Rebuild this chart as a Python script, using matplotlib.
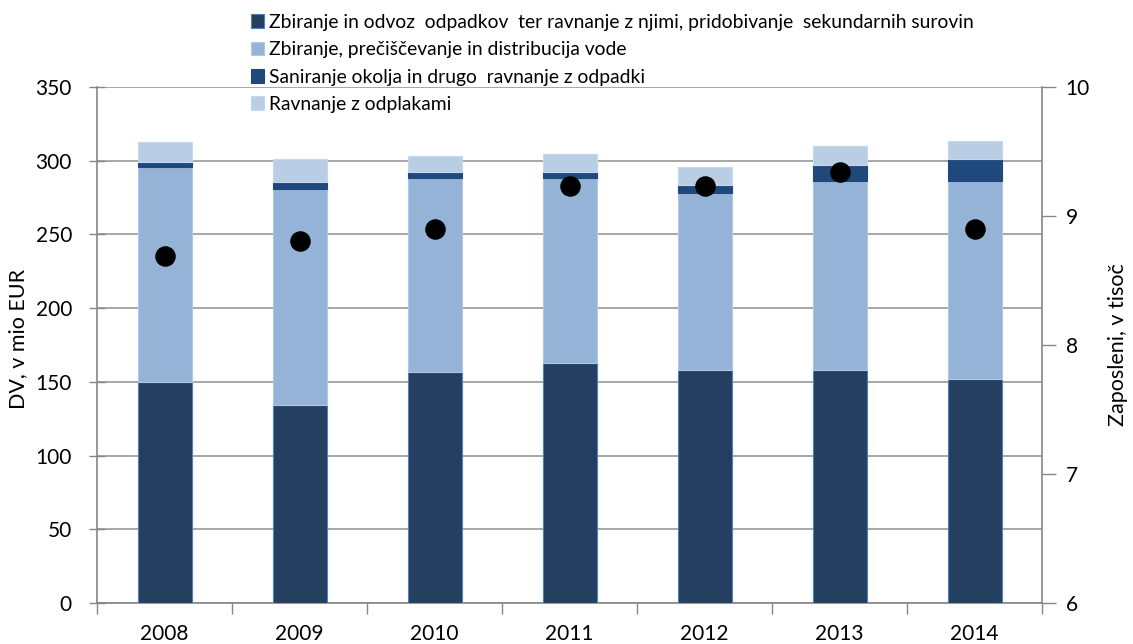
import matplotlib
matplotlib.use("Agg")
import matplotlib.pyplot as plt
import numpy as np
from matplotlib.patches import Patch

years = ["2008", "2009", "2010", "2011", "2012", "2013", "2014"]
odpadki = [150, 134, 157, 163, 158, 158, 152]
voda = [146, 147, 131, 125, 120, 128, 134]
saniranje = [3, 4.5, 4.5, 4.5, 5.5, 11, 15.5]
odplake = [14, 16, 11, 12, 12, 13, 12]
zaposleni = [8.69, 8.81, 8.90, 9.23, 9.23, 9.34, 8.90]

labels = [
    "Zbiranje in odvoz  odpadkov  ter ravnanje z njimi, pridobivanje  sekundarnih surovin",
    "Zbiranje, prečiščevanje in distribucija vode",
    "Saniranje okolja in drugo  ravnanje z odpadki",
    "Ravnanje z odplakami",
]
colors = ["#243F60", "#95B3D7", "#1F497D", "#B9CDE5"]
edges = ["#4F81BD", "#B0C8E6", "#1F497D", "#C8D8EC"]

plt.rcParams['font.family'] = ['Lato', 'DejaVu Sans']

fig = plt.figure(figsize=(11.33, 6.44), dpi=100)
ax = fig.add_axes([97/1133, 41/644, (1042-97)/1133, (603-87)/644])

x = np.arange(len(years))
w = 0.4
series = [odpadki, voda, saniranje, odplake]
bottom = np.zeros(len(years))
for vals, c, e in zip(series, colors, edges):
    ax.bar(x, vals, w, bottom=bottom, color=c, edgecolor=e, linewidth=0.8, zorder=3)
    bottom += np.array(vals)

ax.set_xlim(-0.5, len(years) - 0.5)
ax.set_ylim(0, 350)
ax.set_yticks(np.arange(0, 351, 50))
ax.yaxis.grid(True, color="#A0A0A0", linewidth=1.3, zorder=0)
ax.set_axisbelow(True)

ax.set_xticks(x)
ax.set_xticklabels(years, fontsize=15)
ax.set_xticks(np.arange(-0.5, len(years), 1), minor=True)
ax.tick_params(axis="x", which="major", length=0, pad=15)
ax.tick_params(axis="x", which="minor", length=8, color="#868686", width=1)
ax.tick_params(axis="y", which="major", direction="inout", length=12, color="#868686",
               width=1, labelsize=15, pad=12)

for s in ["top", "right"]:
    ax.spines[s].set_visible(False)
for s in ["left", "bottom"]:
    ax.spines[s].set_color("#868686")
    ax.spines[s].set_linewidth(1.2)

ax.set_ylabel("DV, v mio EUR", fontsize=15.5)
ax.yaxis.set_label_coords(-0.073, 0.512)

ax2 = ax.twinx()
ax2.scatter(x, zaposleni, s=190, color="black", zorder=5)
ax2.set_ylim(6, 10)
ax2.set_yticks([6, 7, 8, 9, 10])
for s in ["top", "left", "bottom"]:
    ax2.spines[s].set_visible(False)
ax2.spines["right"].set_color("#868686")
ax2.spines["right"].set_linewidth(1.2)
ax2.tick_params(axis="y", length=10, color="#868686", width=1, labelsize=15, pad=7)
ax2.set_ylabel("Zaposleni, v tisoč", fontsize=15.5, rotation=90)
ax2.yaxis.set_label_coords(1.0698, 0.5)

handles = [Patch(facecolor=c, edgecolor=e, linewidth=0.8) for c, e in zip(colors, edges)]
leg = fig.legend(handles, labels, loc="upper left", bbox_to_anchor=(243/1133, 1 - 6/644),
                 frameon=False, fontsize=13.9, handlelength=0.7, handleheight=0.7,
                 handletextpad=0.25, labelspacing=0.54, borderaxespad=0)

fig.savefig("out.png", dpi=100)
